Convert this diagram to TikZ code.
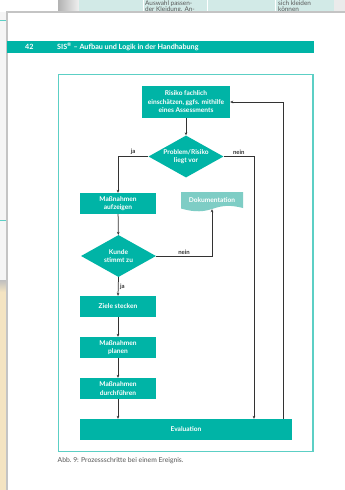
\documentclass[tikz,border=0pt]{standalone}
\usepackage{fontspec}
\setmainfont{Lato}
\usetikzlibrary{shapes.geometric,arrows.meta}
\definecolor{teal1}{HTML}{00B4A6}
\definecolor{framec}{HTML}{5CCFC5}
\definecolor{docc}{HTML}{7ECDC5}
\definecolor{linegray}{HTML}{333333}
\definecolor{labelgray}{HTML}{333333}
\definecolor{capgray}{HTML}{555555}
\definecolor{celllight}{HTML}{D2EAE7}
\definecolor{tan1}{HTML}{F4E4C2}
\definecolor{edgegray}{HTML}{C4C4C4}
\begin{document}
\begin{tikzpicture}[x=1pt,y=-1pt,
  box/.style={fill=teal1, text=white, font=\bfseries\fontsize{6.6}{8.5}\selectfont, align=center, minimum width=76, minimum height=21, inner sep=0pt},
  dec/.style={diamond, fill=teal1, text=white, font=\bfseries\fontsize{6.6}{8.5}\selectfont, align=center, aspect=1.8, inner sep=0pt, minimum width=75, minimum height=42},
  conn/.style={draw=linegray, line width=0.75pt},
  arr/.style={conn, -{Stealth[length=3pt,width=2.6pt]}},
  lbl/.style={font=\bfseries\fontsize{6}{7}\selectfont, text=labelgray, inner sep=1.5pt},
  bgtext/.style={font=\fontsize{6.4}{7}\selectfont, text=black!65, anchor=west, inner sep=0pt}]
\useasboundingbox (0,0) rectangle (345,490);
% ---- background behind the page
\fill[white] (0,0) rectangle (345,490);
\fill[black!4] (0,12) rectangle (7,280);
\fill[tan1] (0,280) rectangle (7,490);
\shade[top color=black!25, bottom color=tan1] (0,280) rectangle (7,292);
\draw[framec, line width=0.8pt] (0,20) -- (7,20);
\draw[framec, line width=0.8pt] (0,220) -- (7,220);
\shade[left color=black!30, right color=black!6] (58,0) rectangle (79,12);
\fill[celllight] (79,0) rectangle (334,12);
\fill[black!8] (334,0) rectangle (345,12);
\draw[white, line width=0.6pt] (143,0) -- (143,12) (207,0) -- (207,12) (275,0) -- (275,12);
\node[bgtext] (t1) at (145,3.3) {Auswahl passen-};
\node[bgtext] (t2) at (145,9.3) {der Kleidung. An-};
\node[bgtext] (t3) at (278,3.3) {sich kleiden};
\node[bgtext] (t4) at (278,9.3) {können};
% ---- page
\fill[white] (7,12) rectangle (345,490);
\draw[edgegray, line width=1.2pt] (7,490) -- (7,12) -- (345,12);
% ---- header
\fill[teal1] (7,41) rectangle (314,53);
\node[font=\bfseries\fontsize{7.2}{8}\selectfont, text=white, anchor=west, inner sep=0pt] (pn) at (25,47) {42};
\node[font=\bfseries\fontsize{7.2}{8}\selectfont, text=white, anchor=west, inner sep=0pt] (ht) at (57,47) {SIS\textsuperscript{®} – Aufbau und Logik in der Handhabung};
% ---- frame
\draw[framec, line width=1.2pt] (58.5,74.5) rectangle (313,451.5);
% ---- flowchart
\node[box, minimum width=88, minimum height=32] (risk) at (186,102) {Risiko fachlich\\einschätzen, ggfs. mithilfe\\eines Assessments};
\node[dec] (prob) at (186,156.5) {Problem/Risiko\\liegt vor};
\node[box] (mass1) at (118,203.5) {Maßnahmen\\aufzeigen};
\fill[docc] (181,192) -- (243,192) -- (243,208) .. controls (231,205) and (223,205) .. (212,209) .. controls (200,213) and (190,211) .. (181,208.5) -- cycle;
\node[font=\bfseries\fontsize{6.6}{8.5}\selectfont, text=white, minimum width=62, minimum height=17, inner sep=0pt] (doc) at (212,200.5) {Dokumentation};
\node[dec] (kunde) at (118.5,256) {Kunde\\stimmt zu};
\node[box] (ziele) at (118,306.5) {Ziele stecken};
\node[box] (plan) at (118,347.5) {Maßnahmen\\planen};
\node[box] (durch) at (118,388.5) {Maßnahmen\\durchführen};
\node[box, minimum width=212] (eval) at (186,429.5) {Evaluation};
\coordinate (nx) at (254,0);
\coordinate (lx) at (283,0);
\draw[arr] (risk) -- (prob);
\draw[arr] (prob.west) -| (mass1.north) node[lbl, pos=0.25, above] {ja};
\draw[arr] (prob.east) -| (nx |- eval.north) node[lbl, pos=0.25, above] {nein};
\draw[arr] (lx |- eval.north) |- (risk.east);
\draw[arr] (mass1) -- (kunde);
\draw[arr] (kunde.east) -| (doc.south) node[lbl, pos=0.25, above] {nein};
\draw[arr] (kunde.south) -- (ziele.north) node[lbl, midway, right] {ja};
\draw[arr] (ziele) -- (plan);
\draw[arr] (plan) -- (durch);
\draw[arr] (durch.south) -- (durch.south |- eval.north);
% ---- caption
\node[font=\fontsize{6.8}{7.5}\selectfont, text=capgray, anchor=west, inner sep=0pt] (cap) at (57.5,461) {Abb.~9: Prozessschritte bei einem Ereignis.};
\end{tikzpicture}
\end{document}
